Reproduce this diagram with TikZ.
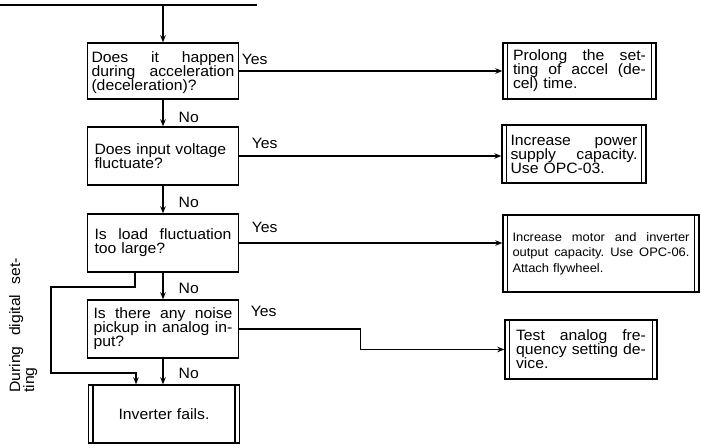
\documentclass[tikz,border=0pt]{standalone}
\usepackage{fontspec}
\setmainfont{Liberation Sans}[FakeStretch=1.05]
\usetikzlibrary{arrows.meta,calc}
\newcommand\qfont{\fontsize{15}{14}\selectfont}
\newcommand\sfontx{\fontsize{12.3}{15.5}\selectfont}
\newcommand\jline[1]{\leavevmode\hbox to \hsize{\spaceskip=.3333em plus 1fill\relax #1}}
\tikzset{
  box/.style={draw, line width=1.4pt, minimum width=151pt, minimum height=58pt,
    inner sep=0pt, font=\qfont, align=left},
  dbl/.style={path picture={\draw[line width=1.4pt]
    ([xshift=4.5pt]path picture bounding box.north west) -- ([xshift=4.5pt]path picture bounding box.south west)
    ([xshift=-4.5pt]path picture bounding box.north east) -- ([xshift=-4.5pt]path picture bounding box.south east);}},
  flow/.style={line width=1.3pt, -{Stealth[length=7pt,width=5.5pt]}},
  plain/.style={line width=1.3pt},
  lab/.style={font=\qfont, inner sep=0pt, anchor=west},
}
\begin{document}
\begin{tikzpicture}[x=1pt,y=-1pt]
\useasboundingbox (0,0) rectangle (701,447);
% question boxes
\node[box, minimum height=56pt, text width=143pt] (q1) at (163,71)
  {\rule{0pt}{14pt}\jline{Does it happen}\\\jline{during acceleration}\\(deceleration)?};
\node[box, text width=137pt] (q2) at (163,156) {Does input voltage\\fluctuate?};
\node[box, text width=137pt] (q3) at (163,243) {\jline{Is load fluctuation}\\too large?};
\node[box, text width=139pt] (q4) at (163,329)
  {\jline{Is there any noise}\\\jline{pickup in analog in-}\\put?};
\node[box, dbl, align=center, text width=140pt] (q5) at (164,414) {Inverter fails.};
% result boxes
\node[box, dbl, minimum width=153pt, minimum height=56pt, text width=133pt] (r1) at (579.5,71)
  {\jline{Prolong the set-}\\\jline{ting of accel (de-}\\cel) time.};
\node[box, dbl, minimum width=144pt, text width=127pt] (r2) at (574,154)
  {\jline{Increase power}\\\jline{supply capacity.}\\Use OPC-03.};
\node[box, dbl, minimum width=196pt, minimum height=77pt, text width=177pt, font=\sfontx] (r3) at (601,253.5)
  {\jline{Increase motor and inverter}\\\jline{output capacity. Use OPC-06.}\\Attach flywheel.};
\node[box, dbl, minimum width=152pt, minimum height=59pt, text width=130pt] (r4) at (581,349.5)
  {\jline{Test analog fre-}\\\jline{quency setting de-}\\vice.};
% side label
\node[font=\qfont, rotate=90, anchor=north west, inner sep=0pt, text width=135pt, align=left] (side) at (9,393)
  {\jline{During digital set-}\\ting};
% top line
\coordinate (tl) at (0,5);
\coordinate (tr) at (257,5);
\coordinate (tj) at (163,5);
\draw[plain] (tl) -- (tr);
\draw[flow] (tj) -- (q1.north);
% no arrows
\draw[flow] (q1.south) -- node[lab, pos=0.66, xshift=15pt] {No} (q1.south |- q2.north);
\draw[flow] (q2.south) -- node[lab, pos=0.6, xshift=15pt] {No} (q2.south |- q3.north);
\draw[flow] (q3.south) -- node[lab, pos=0.58, xshift=15pt] {No} (q3.south |- q4.north);
\draw[flow] (q4.south) -- node[lab, pos=0.56, xshift=15pt] {No} (q4.south |- q5.north);
% yes arrows
\draw[flow] (q1.east) -- node[lab, pos=0, xshift=2pt, yshift=12pt] {Yes} (q1.east -| r1.west);
\draw[flow] (q2.east) -- node[lab, pos=0, xshift=12pt, yshift=13pt] {Yes} (q2.east -| r2.west);
\draw[flow] (q3.east) -- node[lab, pos=0, xshift=12pt, yshift=16pt] {Yes} (q3.east -| r3.west);
\draw[flow] (q4.east) -- node[lab, pos=0, xshift=11pt, yshift=18pt] {Yes} ++(121,0) |- (r4.west);
% bypass
\coordinate (ba) at (51,287);
\coordinate (bb) at (51,373);
\draw[flow] ([xshift=-28pt]q3.south) |- (ba) -- (bb) -| ([xshift=-28pt]q5.north);
\end{tikzpicture}
\end{document}
